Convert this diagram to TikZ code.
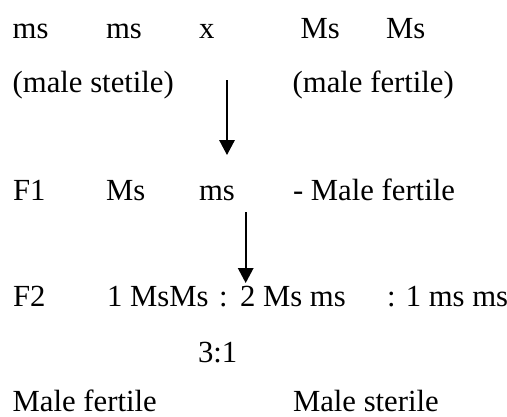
\documentclass[tikz,border=0pt]{standalone}
\usepackage{fontspec}
\setmainfont{Liberation Serif}
\usetikzlibrary{arrows.meta}
\begin{document}
\begin{tikzpicture}[x=1pt,y=-1pt,
  txt/.style={anchor=base west,inner sep=0pt,outer sep=0pt,font=\fontsize{30.7}{36}\selectfont},
  arr/.style={line width=1.6pt,-{Triangle[length=15pt,width=15.5pt]}}]
\useasboundingbox (0,0) rectangle (507,416);
% row 1
\node[txt] (r1a) at (12.7,38) {ms};
\node[txt] (r1b) at (106,38) {ms};
\node[txt] (r1x) at (199,38) {x};
\node[txt] (r1c) at (300.7,38) {Ms};
\node[txt] (r1d) at (386,38) {Ms};
% row 2
\node[txt] (r2a) at (12.7,92) {(male stetile)};
\node[txt] (r2b) at (292.7,92) {(male fertile)};
% row 3
\node[txt] (f1) at (13,200) {F1};
\node[txt] (f1a) at (106,200) {Ms};
\node[txt] (f1b) at (199,200) {ms};
\node[txt] (f1c) at (293,200) {- Male fertile};
% row 4
\node[txt] (f2) at (13,306) {F2};
\node[txt] (f2a) at (107,306) {1 MsMs};
\node[txt] (f2c1) at (219,306) {:};
\node[txt] (f2b) at (240,306) {2 Ms ms};
\node[txt] (f2c) at (387,306) {: 1 ms ms};
% row 5
\node[txt] (ratio) at (198,362) {3:1};
% row 6
\node[txt] (mf) at (12.7,411) {Male fertile};
\node[txt] (ms) at (293,411) {Male sterile};
% arrows
\coordinate (a1s) at (227,80);
\coordinate (a1e) at (227,155);
\coordinate (a2s) at (245.7,212);
\coordinate (a2e) at (245.7,283);
\draw[arr] (a1s) -- (a1e);
\draw[arr] (a2s) -- (a2e);
\end{tikzpicture}
\end{document}
